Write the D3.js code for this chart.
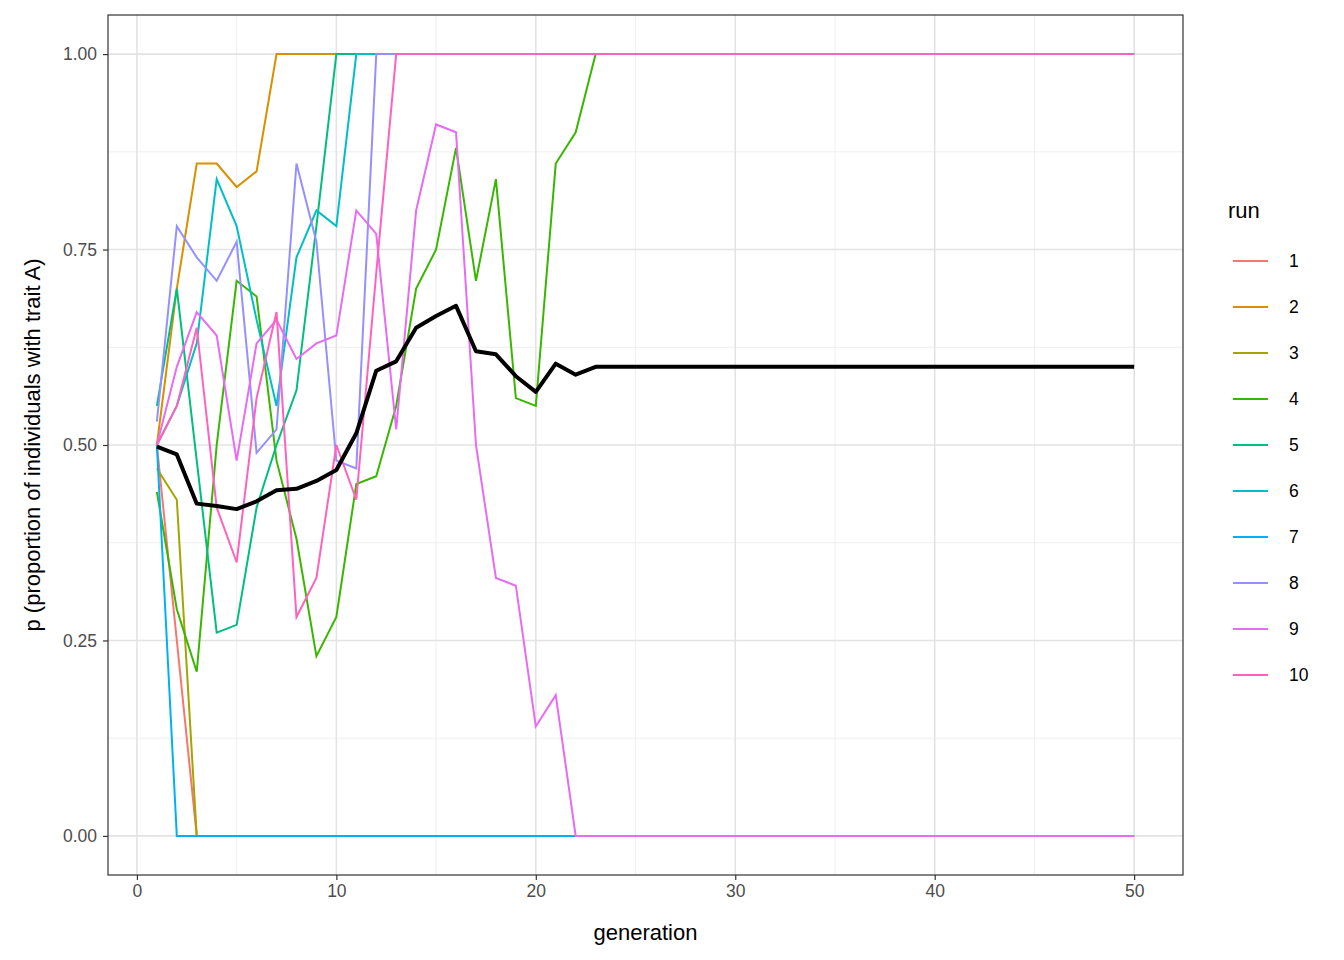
<!DOCTYPE html>
<html><head><meta charset="utf-8">
<script src="https://cdn.jsdelivr.net/npm/d3@7"></script>
<style>body{margin:0;background:#fff}text{font-family:Arial,"Liberation Sans",sans-serif}</style>
</head><body><svg id="c" width="1344" height="960"></svg>
<script>
// values per run for the early generations; after the last value each run stays fixed
var runs = ["1","2","3","4","5","6","7","8","9","10"];
var colors = ["#F8766D","#D89000","#A3A500","#39B600","#00BF7D","#00BFC4","#00B0F6","#9590FF","#E76BF3","#FF62BC"];
var pRuns = [
  [0.50,0.25,0],
  [0.50,0.70,0.86,0.86,0.83,0.85,1],
  [0.47,0.43,0],
  [0.44,0.29,0.21,0.50,0.71,0.69,0.48,0.38,0.23,0.28,0.45,0.46,0.55,0.70,0.75,0.88,0.71,0.84,0.56,0.55,0.86,0.90,1],
  [0.55,0.70,0.48,0.26,0.27,0.42,0.50,0.57,0.78,1],
  [0.50,0.55,0.63,0.84,0.78,0.66,0.55,0.74,0.80,0.78,1],
  [0.50,0],
  [0.53,0.78,0.74,0.71,0.76,0.49,0.52,0.86,0.76,0.48,0.47,1],
  [0.50,0.60,0.67,0.64,0.48,0.63,0.66,0.61,0.63,0.64,0.80,0.77,0.52,0.80,0.91,0.90,0.50,0.33,0.32,0.14,0.18,0],
  [0.50,0.55,0.65,0.42,0.35,0.56,0.67,0.28,0.33,0.50,0.43,0.72,1]
];
var pMean = [0.498,0.488,0.425,0.422,0.418,0.428,0.442,0.444,0.454,0.468,0.515,0.595,0.607,0.65,0.665,0.678,0.62,0.616,0.588,0.568,0.604,0.59,0.60];
var lastGen = 50;
var xTicks = [0,10,20,30,40,50];
var yTicks = [0,0.25,0.5,0.75,1];

var svg = d3.select("#c");
var L = 108, R = 1183, T = 15, B = 875;
var x = d3.scaleLinear().domain([-1.45, 52.45]).range([L, R]);
var y = d3.scaleLinear().domain([-0.05, 1.05]).range([B, T]);

// series to points, holding the final value to lastGen
function toPts(a) {
  var pts = a.map(function(v, i) { return [i + 1, v]; });
  pts.push([lastGen, a[a.length - 1]]);
  return pts;
}

var g = svg.append("g");
var minorX = [5,15,25,35,45], minorY = [0.125,0.375,0.625,0.875];
minorX.forEach(function(t){ g.append("line").attr("x1",x(t)).attr("x2",x(t)).attr("y1",T).attr("y2",B).attr("stroke","#ebebeb").attr("stroke-width",0.8); });
minorY.forEach(function(t){ g.append("line").attr("y1",y(t)).attr("y2",y(t)).attr("x1",L).attr("x2",R).attr("stroke","#ebebeb").attr("stroke-width",0.8); });
xTicks.forEach(function(t){ g.append("line").attr("x1",x(t)).attr("x2",x(t)).attr("y1",T).attr("y2",B).attr("stroke","#e3e3e3").attr("stroke-width",1.6); });
yTicks.forEach(function(t){ g.append("line").attr("y1",y(t)).attr("y2",y(t)).attr("x1",L).attr("x2",R).attr("stroke","#e3e3e3").attr("stroke-width",1.6); });

var line = d3.line().x(function(d){return x(d[0]);}).y(function(d){return y(d[1]);});
pRuns.forEach(function(a, i) {
  svg.append("path").attr("d", line(toPts(a))).attr("fill","none")
    .attr("stroke", colors[i]).attr("stroke-width", 2);
});
svg.append("path").attr("d", line(toPts(pMean))).attr("fill","none")
  .attr("stroke","#000").attr("stroke-width",4).attr("stroke-linejoin","round");

svg.append("rect").attr("x",L).attr("y",T).attr("width",R-L).attr("height",B-T)
  .attr("fill","none").attr("stroke","#333").attr("stroke-width",1.2);

var xa = svg.append("g").attr("transform","translate(0,"+B+")")
  .call(d3.axisBottom(x).tickValues(xTicks).tickSize(5).tickPadding(5));
var ya = svg.append("g").attr("transform","translate("+L+",0)")
  .call(d3.axisLeft(y).tickValues(yTicks).tickFormat(d3.format(".2f")).tickSize(5).tickPadding(6));
[xa, ya].forEach(function(a){
  a.select(".domain").remove();
  a.selectAll("line").attr("stroke","#333").attr("stroke-width",1.2);
  a.selectAll("text").attr("fill","#4d4d4d").style("font-size","17.5px");
});

svg.append("text").attr("x",(L+R)/2).attr("y",940).attr("text-anchor","middle")
  .style("font-size","22px").text("generation");
svg.append("text").attr("transform","translate(40,"+((T+B)/2)+") rotate(-90)").attr("text-anchor","middle")
  .style("font-size","22px").text("p (proportion of individuals with trait A)");

var lg = svg.append("g");
lg.append("text").attr("x",1228).attr("y",218).style("font-size","22px").text("run");
runs.forEach(function(r, i) {
  var yy = 261 + i * 46;
  lg.append("line").attr("x1",1233).attr("x2",1268).attr("y1",yy).attr("y2",yy)
    .attr("stroke",colors[i]).attr("stroke-width",2);
  lg.append("text").attr("x",1289).attr("y",yy+6).style("font-size","17.5px").text(r);
});
</script></body></html>
